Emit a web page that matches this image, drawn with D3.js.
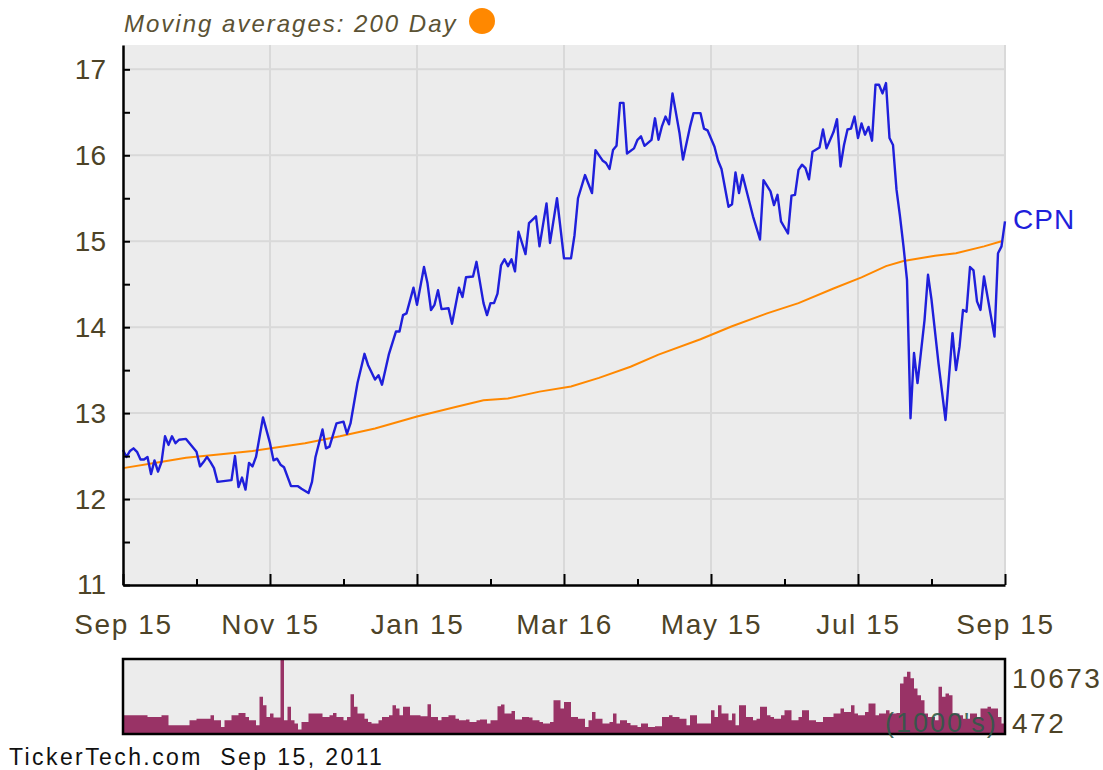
<!DOCTYPE html>
<html><head><meta charset="utf-8">
<script src="https://cdn.jsdelivr.net/npm/d3@7"></script>
<style>
body{margin:0;background:#fff}
svg{display:block}
text{font-family:"Liberation Sans",Arial,sans-serif}
</style>
</head><body>
<svg id="c" width="1103" height="770"></svg>
<script>
// ---------- data ----------
const xTickDays = [0, 42, 84, 126, 168, 210, 252];
const xTickLabels = ["Sep 15", "Nov 15", "Jan 15", "Mar 16", "May 15", "Jul 15", "Sep 15"];
const xMinorDays = [21, 63, 105, 147, 189, 231];
const yTicks = [11, 12, 13, 14, 15, 16, 17];
const yMinorTicks = [11.5, 12.5, 13.5, 14.5, 15.5, 16.5];

const priceDays = [0,1,2,3,4,5,6,7,8,9,10,11,12,13,14,15,16,18,19,21,22,23,24,25,26,27,31,32,33,34,35,36,37,38,40,42,43,44,45,46,48,50,51,53,54,55,57,58,59,61,63,64,65,67,69,70,72,73,74,76,78,79,80,81,83,84,86,87,88,89,90,91,93,94,96,97,98,100,101,103,104,105,106,107,108,109,110,111,112,113,115,116,118,119,121,122,124,126,128,129,130,132,134,135,137,138,139,140,141,142,143,144,146,147,148,149,151,152,153,154,155,156,157,158,159,160,162,163,165,166,167,169,170,171,173,174,175,176,177,180,182,183,185,186,187,188,190,191,192,193,194,195,196,197,199,200,201,203,204,205,206,207,208,209,210,211,212,213,214,215,216,217,218,219,220,221,222,223,224,225,226,227,229,230,231,233,235,237,238,239,240,241,242,243,244,245,246,249,250,251,252];
const priceValues = [12.57,12.49,12.56,12.59,12.55,12.46,12.46,12.49,12.29,12.45,12.32,12.43,12.73,12.63,12.73,12.65,12.69,12.70,12.65,12.55,12.38,12.43,12.49,12.43,12.36,12.20,12.22,12.50,12.14,12.25,12.11,12.42,12.38,12.49,12.95,12.65,12.45,12.47,12.40,12.37,12.15,12.15,12.12,12.07,12.20,12.49,12.81,12.59,12.61,12.88,12.90,12.76,12.88,13.35,13.69,13.56,13.39,13.44,13.33,13.69,13.95,13.95,14.14,14.16,14.46,14.26,14.70,14.51,14.20,14.26,14.43,14.21,14.22,14.04,14.46,14.35,14.58,14.59,14.76,14.28,14.14,14.28,14.28,14.39,14.72,14.79,14.71,14.79,14.65,15.11,14.85,15.21,15.29,14.94,15.44,14.98,15.50,14.80,14.80,15.07,15.50,15.77,15.56,16.06,15.94,15.91,15.84,16.06,16.11,16.61,16.61,16.02,16.08,16.18,16.22,16.11,16.18,16.43,16.18,16.34,16.45,16.36,16.72,16.49,16.26,15.95,16.33,16.49,16.49,16.31,16.29,16.10,15.94,15.84,15.40,15.43,15.80,15.56,15.77,15.29,15.02,15.71,15.58,15.42,15.54,15.23,15.09,15.53,15.54,15.83,15.89,15.85,15.72,16.04,16.09,16.30,16.08,16.27,16.42,15.87,16.12,16.30,16.31,16.45,16.20,16.37,16.24,16.33,16.17,16.82,16.82,16.72,16.84,16.20,16.12,15.60,15.29,14.94,14.55,12.94,13.70,13.35,14.08,14.61,14.32,13.58,12.92,13.93,13.50,13.77,14.20,14.18,14.70,14.66,14.30,14.20,14.59,13.89,14.86,14.94,15.23];

const maDays = [0,9,18,28,37,52,62,72,84,95,103,110,119,128,136,145,153,165,174,184,193,203,211,218,223,232,238,246,251];
const maValues = [12.36,12.42,12.48,12.52,12.56,12.65,12.73,12.82,12.96,13.07,13.15,13.17,13.25,13.31,13.41,13.54,13.68,13.86,14.01,14.16,14.28,14.45,14.58,14.71,14.77,14.83,14.86,14.94,15.00];

const volDays = [0,7,11,13,19,21,25,26,28,29,31,33,35,36,38,39,40,41,42,43,45,46,47,48,49,50,51,53,57,59,60,61,63,64,65,66,67,69,70,71,73,74,76,77,78,79,80,82,85,87,88,90,91,93,95,96,98,99,101,102,104,105,107,108,109,111,112,114,116,117,119,120,122,123,125,126,128,130,132,133,134,135,137,139,140,141,142,144,145,147,148,150,152,154,156,157,159,161,162,164,168,169,170,171,173,174,175,176,178,180,181,182,184,185,186,188,189,191,193,194,196,198,200,203,205,206,208,209,210,212,213,215,216,218,219,221,222,223,224,225,226,227,228,229,230,232,233,234,235,236,237,239,240,242,244,245,247,248,250,251];
const volValues = [2598,2349,2598,1130,1864,2100,2598,1864,890,1864,2598,2940,2349,1864,1130,5285,4060,2349,2840,2250,10673,1864,3820,1864,1375,500,1620,2840,2349,2598,2940,2349,1864,2349,5677,3820,2840,2100,1620,1375,1864,2349,2598,4060,3570,2598,3820,2598,2450,4200,2349,1864,2349,2598,2100,1864,1960,1620,1864,1960,1375,1864,3920,4160,2840,3230,1960,2349,2250,1864,1620,1375,1620,4800,3580,4550,2349,2100,890,1864,3080,2100,1375,1620,2840,1375,1864,1470,1130,890,1375,890,990,2349,2598,2349,2100,1130,2598,1375,3330,2349,4060,2840,1864,2840,1130,4060,2349,1864,2100,3820,2598,2349,2100,2598,3330,1864,2349,3330,1864,1620,2349,2840,3570,3080,4060,2840,2598,3080,4300,2598,2840,3330,2840,2940,7250,8220,8955,7990,6520,5530,4800,2840,2349,1864,6750,5285,5780,5530,2840,2598,2100,2840,2349,3570,3820,3570,2349,1375];
const volMax = 10673;
const volLabels = ["10673", "472"];

const ticker = "CPN";
const legendText = "Moving averages: 200 Day";
const footerText = "TickerTech.com  Sep 15, 2011";

// ---------- drawing ----------
const svg = d3.select("#c");
const P = {l: 123, r: 1005, t: 45, b: 585};
const labelColor = "#4d4327";

const x = d3.scaleLinear().domain([0, 252]).range([P.l, P.r]);
const y = d3.scaleLinear().domain([11, 17.283]).range([P.b, P.t]);

// legend
svg.append("text").attr("x", 124).attr("y", 32)
  .attr("font-size", 24).attr("font-style", "italic").attr("letter-spacing", 2)
  .attr("fill", "#5b5234").text(legendText);
svg.append("circle").attr("cx", 482).attr("cy", 21).attr("r", 13).attr("fill", "#ff8800");

// plot background
svg.append("rect").attr("x", P.l).attr("y", P.t)
  .attr("width", P.r - P.l).attr("height", P.b - P.t).attr("fill", "#ececec");

// grid
svg.append("g").selectAll("line").data(yTicks.filter(v => v > 11)).join("line")
  .attr("x1", P.l).attr("x2", P.r).attr("y1", d => y(d)).attr("y2", d => y(d))
  .attr("stroke", "#d9d9d9").attr("stroke-width", 2);
svg.append("g").selectAll("line").data(xTickDays.slice(1)).join("line")
  .attr("x1", d => x(d)).attr("x2", d => x(d)).attr("y1", P.t).attr("y2", P.b)
  .attr("stroke", "#d9d9d9").attr("stroke-width", 2);

// lines
const line = d3.line().x(d => x(d[0])).y(d => y(d[1]));
const maData = maDays.map((d, i) => [d, maValues[i]]);
const priceData = priceDays.map((d, i) => [d, priceValues[i]]);
svg.append("path").datum(maData).attr("d", line)
  .attr("fill", "none").attr("stroke", "#ff8800").attr("stroke-width", 2);
svg.append("path").datum(priceData).attr("d", line)
  .attr("fill", "none").attr("stroke", "#1f1fdb").attr("stroke-width", 2.4)
  .attr("stroke-linejoin", "round");

svg.append("text").attr("x", 1013).attr("y", 229).attr("font-size", 28)
  .attr("letter-spacing", 1).attr("fill", "#1f1fdb").text(ticker);

// left axis
const yAll = yTicks.concat(yMinorTicks).sort((a, b) => a - b);
const gy = svg.append("g").attr("transform", `translate(${P.l},0)`)
  .call(d3.axisLeft(y).tickValues(yAll).tickSizeInner(-7).tickSizeOuter(0)
    .tickPadding(17).tickFormat(d => Number.isInteger(d) ? d : ""));
gy.select(".domain").attr("stroke", "#000").attr("stroke-width", 2.5);
gy.selectAll(".tick line").attr("stroke", "#000").attr("stroke-width", 2);
gy.selectAll(".tick text").attr("font-size", 28).attr("fill", labelColor)
  .attr("font-family", '"Liberation Sans",Arial,sans-serif');

// bottom axis (major)
const gx = svg.append("g").attr("transform", `translate(0,${P.b})`)
  .call(d3.axisBottom(x).tickValues(xTickDays).tickSizeInner(-11).tickSizeOuter(0)
    .tickPadding(29).tickFormat((d, i) => xTickLabels[i]));
gx.select(".domain").attr("stroke", "#000").attr("stroke-width", 2.5);
gx.selectAll(".tick line").attr("stroke", "#000").attr("stroke-width", 2);
gx.selectAll(".tick text").attr("font-size", 28).attr("fill", labelColor)
  .attr("letter-spacing", 1.6).attr("font-family", '"Liberation Sans",Arial,sans-serif');
// minor
const gxm = svg.append("g").attr("transform", `translate(0,${P.b})`)
  .call(d3.axisBottom(x).tickValues(xMinorDays).tickSizeInner(-6).tickSizeOuter(0).tickFormat(""));
gxm.select(".domain").remove();
gxm.selectAll(".tick line").attr("stroke", "#000").attr("stroke-width", 2);

// ---------- volume panel ----------
const V = {t: 659, b: 734};
const yv = d3.scaleLinear().domain([0, volMax]).range([V.b - 1, V.t + 1]);
svg.append("rect").attr("x", P.l).attr("y", V.t).attr("width", P.r - P.l)
  .attr("height", V.b - V.t).attr("fill", "#ececec");
const volData = volDays.map((d, i) => [d, volValues[i]]);
volData.push([252, volValues[volValues.length - 1]]);
svg.append("path").datum(volData)
  .attr("d", d3.area().curve(d3.curveStepAfter).x(d => x(d[0])).y0(yv(0)).y1(d => yv(d[1])))
  .attr("fill", "#993366");
svg.append("rect").attr("x", P.l).attr("y", V.t).attr("width", P.r - P.l)
  .attr("height", V.b - V.t).attr("fill", "none").attr("stroke", "#000").attr("stroke-width", 2.5);

svg.append("text").attr("x", 885).attr("y", 732).attr("font-size", 27)
  .attr("letter-spacing", 2).attr("fill", "#2d5a48").attr("fill-opacity", 0.9).text("(1000's)");
svg.append("text").attr("x", 1012).attr("y", 688).attr("font-size", 28)
  .attr("letter-spacing", 2.5).attr("fill", labelColor).text(volLabels[0]);
svg.append("text").attr("x", 1012).attr("y", 733).attr("font-size", 28)
  .attr("letter-spacing", 2.5).attr("fill", labelColor).text(volLabels[1]);

// footer
svg.append("text").attr("x", 9).attr("y", 765).attr("font-size", 23)
  .attr("letter-spacing", 2.4).attr("fill", "#111").style("white-space", "pre").text(footerText);
</script>
</body></html>
